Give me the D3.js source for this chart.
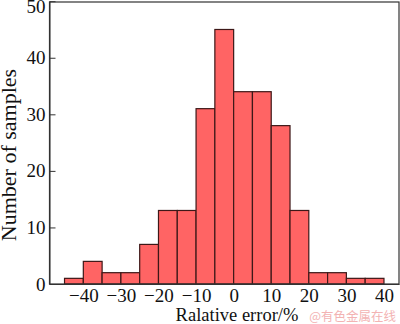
<!DOCTYPE html>
<html>
<head>
<meta charset="utf-8">
<script src="https://cdn.jsdelivr.net/npm/d3@7"></script>
<style>
  html, body { margin: 0; padding: 0; background: #fff; }
  svg { display: block; }
  text { font-family: "Liberation Serif", "Times New Roman", serif; fill: #111; }
</style>
</head>
<body>
<svg id="chart" width="400" height="324"></svg>
<script>
// Histogram bins (lower edge, %) and counts
const binStarts = [-45, -40, -35, -30, -25, -20, -15, -10, -5, 0, 5, 10, 15, 20, 25, 30, 35];
const counts    = [1, 4, 2, 2, 7, 13, 13, 31, 45, 34, 34, 28, 13, 2, 2, 1, 1];
const binWidth = 5;
const xTicks = [-40, -30, -20, -10, 0, 10, 20, 30, 40];
const yTicks = [0, 10, 20, 30, 40, 50];
const xLabel = "Ralative error/%";
const yLabel = "Number of samples";
const watermark = "@有色金属在线";

const svg = d3.select("#chart");
const mLeft = 49.5, mRight = 399, mTop = 2, mBottom = 284;

const x = d3.scaleLinear().domain([-49, 44]).range([mLeft, mRight]);
const y = d3.scaleLinear().domain([0, 50]).range([mBottom, 1.2]);

// bars
svg.append("g").selectAll("rect")
  .data(binStarts.map((s, i) => ({ s, c: counts[i] })))
  .join("rect")
  .attr("x", d => x(d.s))
  .attr("width", d => x(d.s + binWidth) - x(d.s))
  .attr("y", d => y(d.c))
  .attr("height", d => y(0) - y(d.c))
  .attr("fill", "#ff6464")
  .attr("stroke", "#3d1818")
  .attr("stroke-width", 1.2);

// frame
svg.append("rect")
  .attr("x", mLeft).attr("y", mTop)
  .attr("width", mRight - mLeft).attr("height", mBottom - mTop)
  .attr("fill", "none").attr("stroke", "#333").attr("stroke-width", 1.2);

// y axis
const yAxis = svg.append("g")
  .attr("transform", `translate(${mLeft},0)`)
  .call(d3.axisLeft(y).tickValues(yTicks).tickSizeInner(-6).tickSizeOuter(0).tickPadding(4));
yAxis.select(".domain").attr("stroke", "#333");
yAxis.selectAll(".tick line").attr("stroke", "#333");
yAxis.selectAll(".tick text")
  .style("font-family", '"Liberation Serif", "Times New Roman", serif')
  .style("font-size", "19px").attr("fill", "#111");
yAxis.selectAll(".tick text").filter(d => d === 50).attr("dy", "0.62em");

// x axis
const xAxis = svg.append("g")
  .attr("transform", `translate(0,${mBottom})`)
  .call(d3.axisBottom(x).tickValues(xTicks).tickSize(0).tickPadding(5));
xAxis.select(".domain").attr("stroke", "#333");
xAxis.selectAll(".tick text")
  .style("font-family", '"Liberation Serif", "Times New Roman", serif')
  .style("font-size", "19px").attr("fill", "#111");

// axis labels
svg.append("text")
  .attr("x", 237).attr("y", 321)
  .attr("text-anchor", "middle")
  .style("font-size", "18.5px")
  .text(xLabel);

svg.append("text")
  .attr("transform", "translate(16,155) rotate(-90)")
  .attr("text-anchor", "middle")
  .style("font-size", "22px")
  .text(yLabel);

// watermark
svg.append("text")
  .attr("x", 396).attr("y", 321)
  .attr("text-anchor", "end")
  .style("font-family", '"Noto Sans CJK SC", sans-serif')
  .style("font-size", "12.5px")
  .style("fill", "#f3b3b3")
  .text(watermark);
</script>
</body>
</html>
